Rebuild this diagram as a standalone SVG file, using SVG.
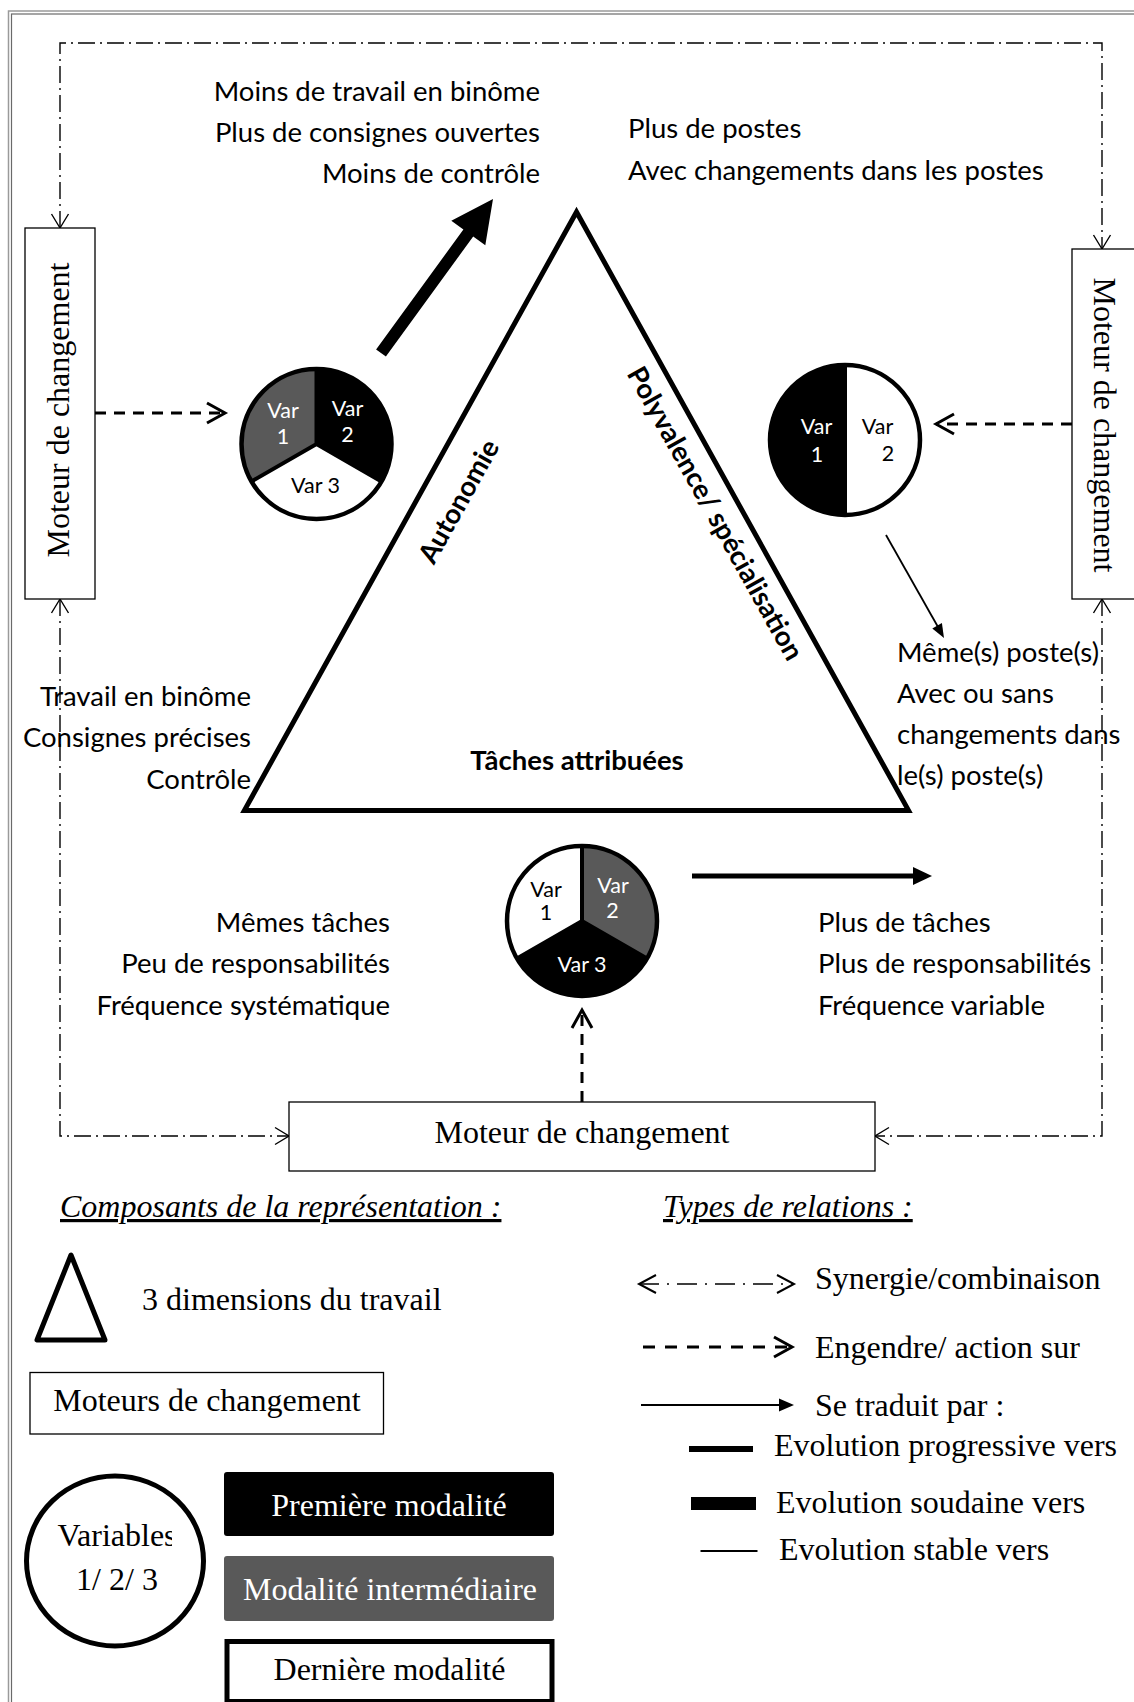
<svg xmlns="http://www.w3.org/2000/svg" width="1134" height="1702" viewBox="0 0 1134 1702">
<defs>
<style>
.t{font-family:Lato,"Noto Sans",sans-serif;font-size:27.5px;fill:#000}
.e{text-anchor:end}
.m{text-anchor:middle}
.b{font-weight:bold}
.v{font-family:Lato,"Noto Sans",sans-serif;font-size:21.5px;text-anchor:middle}
.s{font-family:"Liberation Serif","Times New Roman",serif;font-size:32px;fill:#000}
.i{font-style:italic;text-decoration:underline}
.w{fill:#fff}
.k{fill:#000}
.dd{fill:none;stroke:#000;stroke-width:1.4;stroke-dasharray:17 5 2 5}
.dd2{fill:none;stroke:#000;stroke-width:1.5;stroke-dasharray:20 8 2 8}
.dash{fill:none;stroke:#000;stroke-width:3;stroke-dasharray:11 8}
.box{fill:#fff;stroke:#000;stroke-width:1.3}
.pie{fill:none;stroke:#000;stroke-width:4.5}
.gray{fill:#595959}
</style>
<marker id="openThin" markerUnits="userSpaceOnUse" markerWidth="18" markerHeight="20" viewBox="0 0 18 20" refX="15" refY="10" orient="auto-start-reverse" overflow="visible">
<path d="M1,1.5 L15,10 L1,18.5" fill="none" stroke="#000" stroke-width="1.4" stroke-dasharray="none"/>
</marker>
<marker id="openLeg" markerUnits="userSpaceOnUse" markerWidth="20" markerHeight="22" viewBox="0 0 20 22" refX="18" refY="11" orient="auto-start-reverse" overflow="visible">
<path d="M1,2 L18,11 L1,20" fill="none" stroke="#000" stroke-width="2" stroke-dasharray="none"/>
</marker>
<marker id="openThick" markerUnits="userSpaceOnUse" markerWidth="24" markerHeight="24" viewBox="0 0 24 24" refX="20" refY="12" orient="auto-start-reverse" overflow="visible">
<path d="M2,2 L20,12 L2,22" fill="none" stroke="#000" stroke-width="3" stroke-dasharray="none"/>
</marker>
<clipPath id="clipVar"><rect x="0" y="1500" width="172" height="60"/></clipPath>
</defs>

<g id="frame" fill="none">
<rect x="8.5" y="11" width="1200" height="1760" stroke="#9a9a9a" stroke-width="1.5"/>
<rect x="11.5" y="14" width="1200" height="1760" stroke="#6a6a6a" stroke-width="1.2"/>
</g>

<g id="connectors">
<path class="dd" d="M60,228 V43 H1102 V249" marker-start="url(#openThin)" marker-end="url(#openThin)"/>
<path class="dd" d="M60,599 V1136 H289" marker-start="url(#openThin)" marker-end="url(#openThin)"/>
<path class="dd" d="M1102,599 V1136 H875" marker-start="url(#openThin)" marker-end="url(#openThin)"/>
<path class="dash" d="M95,413 H225" marker-end="url(#openThick)"/>
<path class="dash" d="M1072,424 H936" marker-end="url(#openThick)"/>
<path class="dash" d="M582,1102 V1010" marker-end="url(#openThick)"/>
<polygon points="385.9,356.5 376.1,349.5 463.4,229.5 451.3,220.7 493,199 485.3,245.3 473.2,236.5" fill="#000"/>
<line x1="692" y1="876" x2="915" y2="876" stroke="#000" stroke-width="5"/>
<polygon points="913,867 932,876 913,885" fill="#000"/>
<line x1="886" y1="535" x2="938" y2="627" stroke="#000" stroke-width="1.8"/>
<polygon points="941.9,623.1 944,638 932.3,628.5" fill="#000"/>
</g>

<g id="motor-left">
<rect class="box" x="25" y="228" width="70" height="371"/>
<text class="s m" transform="translate(69,410) rotate(-90)">Moteur de changement</text>
</g>

<g id="motor-right">
<rect class="box" x="1072" y="249" width="80" height="350"/>
<text class="s m" transform="translate(1094,425) rotate(90)">Moteur de changement</text>
</g>

<g id="motor-bottom">
<rect class="box" x="289" y="1102" width="586" height="69"/>
<text class="s m" x="582" y="1143">Moteur de changement</text>
</g>

<g id="triangle">
<polygon points="576.5,212 244.4,810.4 908.5,810.4" fill="none" stroke="#000" stroke-width="5" stroke-linejoin="miter"/>
<text class="t b m" transform="translate(467,506) rotate(-61)">Autonomie</text>
<text class="t b m" transform="translate(707,518) rotate(60.8)">Polyvalence/ spécialisation</text>
<text class="t b m" x="577" y="770">Tâches attribuées</text>
</g>

<g id="pie-autonomie">
<path class="gray" d="M316.5,444 L316.5,369 A75,75 0 0 0 251.5,481.5 Z"/>
<path class="k" d="M316.5,444 L316.5,369 A75,75 0 0 1 381.5,481.5 Z"/>
<path fill="#fff" d="M316.5,444 L251.5,481.5 A75,75 0 0 0 381.5,481.5 Z"/>
<path fill="none" stroke="#000" stroke-width="4" d="M316.5,369 V444 M251.5,481.5 L316.5,444 L381.5,481.5"/>
<circle class="pie" cx="316.5" cy="444" r="75"/>
<text class="v w" x="283" y="418">Var</text>
<text class="v w" x="283" y="444">1</text>
<text class="v w" x="347.5" y="416">Var</text>
<text class="v w" x="347.5" y="442">2</text>
<text class="v k" x="315.5" y="493">Var 3</text>
</g>

<g id="pie-polyvalence">
<path class="k" d="M845,365 A75,75 0 0 0 845,515 Z"/>
<path fill="#fff" d="M845,365 A75,75 0 0 1 845,515 Z"/>
<line x1="845" y1="365" x2="845" y2="515" stroke="#000" stroke-width="4"/>
<circle class="pie" cx="845" cy="440" r="75"/>
<text class="v w" x="816.5" y="434">Var</text>
<text class="v w" x="817" y="462">1</text>
<text class="v k" x="877.5" y="434">Var</text>
<text class="v k" x="888" y="461">2</text>
</g>

<g id="pie-taches">
<path fill="#fff" d="M582,921 L582,846 A75,75 0 0 0 517,958.5 Z"/>
<path class="gray" d="M582,921 L582,846 A75,75 0 0 1 647,958.5 Z"/>
<path class="k" d="M582,921 L517,958.5 A75,75 0 0 0 647,958.5 Z"/>
<path fill="none" stroke="#000" stroke-width="4" d="M582,846 V921 M517,958.5 L582,921 L647,958.5"/>
<circle class="pie" cx="582" cy="921" r="75"/>
<text class="v k" x="546" y="897">Var</text>
<text class="v k" x="546" y="920">1</text>
<text class="v w" x="613" y="893">Var</text>
<text class="v w" x="612.5" y="918">2</text>
<text class="v w" x="582" y="972">Var 3</text>
</g>

<g id="text-autonomie-plus">
<text class="t e" x="540" y="101">Moins de travail en binôme</text>
<text class="t e" x="540" y="142">Plus de consignes ouvertes</text>
<text class="t e" x="540" y="183">Moins de contrôle</text>
</g>
<g id="text-autonomie-moins">
<text class="t e" x="251" y="706">Travail en binôme</text>
<text class="t e" x="251" y="747">Consignes précises</text>
<text class="t e" x="251" y="789">Contrôle</text>
</g>
<g id="text-polyvalence-plus">
<text class="t" x="628" y="138">Plus de postes</text>
<text class="t" x="628" y="180">Avec changements dans les postes</text>
</g>
<g id="text-polyvalence-meme">
<text class="t" x="897" y="662">Même(s) poste(s)</text>
<text class="t" x="897" y="703">Avec ou sans</text>
<text class="t" x="897" y="744">changements dans</text>
<text class="t" x="897" y="785">le(s) poste(s)</text>
</g>
<g id="text-taches-memes">
<text class="t e" x="390" y="932">Mêmes tâches</text>
<text class="t e" x="390" y="973">Peu de responsabilités</text>
<text class="t e" x="390" y="1015">Fréquence systématique</text>
</g>
<g id="text-taches-plus">
<text class="t" x="818" y="932">Plus de tâches</text>
<text class="t" x="818" y="973">Plus de responsabilités</text>
<text class="t" x="818" y="1015">Fréquence variable</text>
</g>

<g id="legend-composants">
<text class="s i" x="60" y="1217">Composants de la représentation :</text>
<polygon points="71,1255 37,1340 105,1340" fill="none" stroke="#000" stroke-width="5" stroke-linejoin="round"/>
<text class="s" x="142" y="1310">3 dimensions du travail</text>
<rect class="box" x="30" y="1372.5" width="353.5" height="61.5"/>
<text class="s m" x="207" y="1410.5">Moteurs de changement</text>
<ellipse cx="115" cy="1561" rx="88.5" ry="85" fill="#fff" stroke="#000" stroke-width="5"/>
<text class="s m" x="117" y="1546" clip-path="url(#clipVar)">Variables</text>
<text class="s m" x="117" y="1590">1/ 2/ 3</text>
<rect x="224" y="1472" width="330" height="64" rx="3" fill="#000"/>
<text class="s m" x="389" y="1515.5" fill="#fff" style="fill:#fff">Première modalité</text>
<rect x="224" y="1556" width="330" height="65" rx="3" fill="#595959"/>
<text class="s m" x="390" y="1599.5" style="fill:#fff">Modalité intermédiaire</text>
<rect x="227" y="1641.5" width="325" height="60" fill="#fff" stroke="#000" stroke-width="5"/>
<text class="s m" x="389.5" y="1680">Dernière modalité</text>
</g>

<g id="legend-relations">
<text class="s i" x="663" y="1217">Types de relations :</text>
<path class="dd2" d="M639,1284 H794" marker-start="url(#openLeg)" marker-end="url(#openLeg)"/>
<text class="s" x="815" y="1289">Synergie/combinaison</text>
<path class="dash" d="M643,1347 H792" stroke-dasharray="12 10" style="stroke-dasharray:12 10" marker-end="url(#openThick)"/>
<text class="s" x="815" y="1357.5">Engendre/ action sur</text>
<line x1="641" y1="1405" x2="781" y2="1405" stroke="#000" stroke-width="2"/>
<polygon points="779,1398.5 794,1405 779,1411.5" fill="#000"/>
<text class="s" x="815" y="1415.5">Se traduit par :</text>
<line x1="689" y1="1449" x2="753" y2="1449" stroke="#000" stroke-width="6"/>
<text class="s" x="774" y="1456">Evolution progressive vers</text>
<line x1="691" y1="1503.5" x2="756" y2="1503.5" stroke="#000" stroke-width="13"/>
<text class="s" x="776" y="1513">Evolution soudaine vers</text>
<line x1="700.5" y1="1551" x2="757.5" y2="1551" stroke="#000" stroke-width="2"/>
<text class="s" x="779" y="1559.5">Evolution stable vers</text>
</g>
</svg>
